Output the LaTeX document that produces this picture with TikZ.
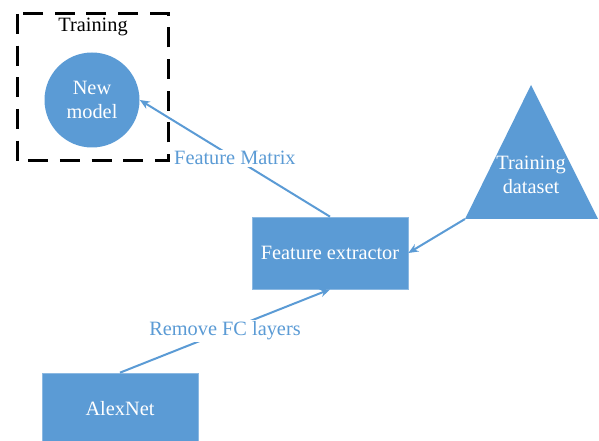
\documentclass[tikz,border=0pt]{standalone}
\usepackage{fontspec}
\setmainfont{Liberation Serif}
\usetikzlibrary{arrows.meta}
\definecolor{officeblue}{HTML}{5B9BD5}

\begin{document}
\begin{tikzpicture}[x=0.6pt, y=-0.6pt, font=\fontsize{12.2}{14.4}\selectfont,
    blockbox/.style={fill=officeblue, draw=officeblue!70!white, line width=0.4pt, text=white, minimum width=93.6pt, minimum height=43.2pt, inner sep=0pt},
    modelcircle/.style={circle, fill=officeblue, text=white, minimum size=57pt, inner sep=0pt, align=center},
    link/.style={draw=officeblue, line width=1.2pt, -{Stealth[length=6pt, width=5pt]}},
    linklabel/.style={fill=white, text=officeblue, inner sep=1pt}]

    \useasboundingbox (0,0) rectangle (599,441);
    \clip (0,0) rectangle (599,441);

    %training box
    \draw[line width=1.8pt, dash pattern=on 12pt off 7pt] (17,14) rectangle (168,161);
    \node[black] (trainlbl) at (93,27) {Training};
    \node[modelcircle] (newmodel) at (92,100) {New\\model};

    %blocks
    \node[blockbox] (extractor) at (330,253) {Feature extractor};
    \node[blockbox] (alexnet) at (120,409) {AlexNet};

    %dataset triangle
    \coordinate (dsleft) at (465,219);
    \coordinate (dsright) at (598,219);
    \coordinate (dstop) at (531,85);
    \fill[officeblue] (dsleft) -- (dstop) -- (dsright) -- cycle;
    \node[text=white, align=center] (dataset) at (531,175) {Training\\dataset};

    %arrows
    \draw[link] (alexnet.north) -- node[linklabel] (fclbl) {Remove FC layers} (extractor.south);
    \draw[link] (extractor.north) -- node[linklabel, pos=0.5] (fmlbl) {Feature Matrix} (newmodel.east);
    \draw[link] (dsleft) -- (extractor.east);

\end{tikzpicture}
\end{document}
